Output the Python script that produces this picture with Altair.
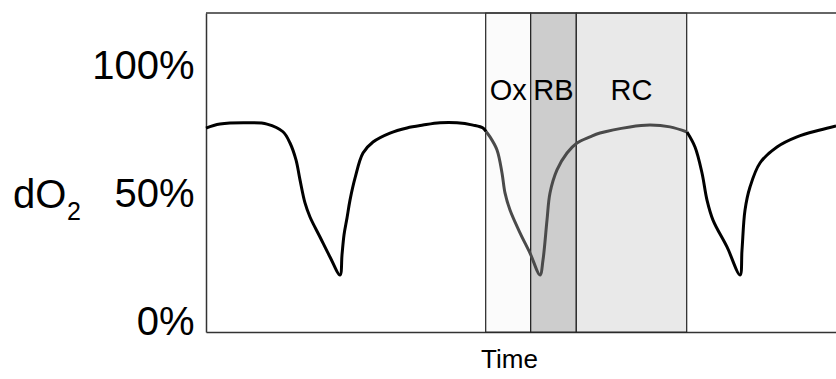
import altair as alt
import pandas as pd

# ---- data ----
seg_a_t = [0, 14, 44, 61, 77, 84, 90, 94, 99, 104, 114, 124, 134, 136, 138, 141, 144, 149, 157, 167, 184, 201, 217, 234, 251, 267, 277, 280]
seg_a_v = [76.1, 77.7, 78.2, 77.7, 74.7, 70.3, 63.7, 55.9, 46.9, 41.4, 33.6, 25.8, 18.75, 26.6, 34.4, 41.0, 48.0, 56.6, 66.4, 70.7, 74.2, 76.2, 77.3, 78.2, 78.2, 77.3, 76.2, 74.8]

seg_b_t = [280, 284, 291, 296, 299, 304, 314, 324, 334, 337, 341, 344, 351, 361, 371, 384, 394, 424, 444, 464, 481]
seg_b_v = [74.8, 72.7, 67.6, 58.6, 50.8, 44.1, 35.2, 27.3, 18.75, 24.6, 40.2, 50.8, 59.8, 66.4, 70.3, 72.7, 74.2, 76.6, 77.3, 76.6, 74.6]

seg_c_t = [481, 489, 496, 501, 507, 521, 534, 536, 539, 544, 554, 571, 591, 614, 630]
seg_c_v = [74.6, 68.75, 58.6, 48.0, 40.2, 29.7, 18.75, 28.5, 44.1, 53.1, 62.5, 68.75, 72.7, 75.4, 77.0]

phase_names = ["Ox", "RB", "RC"]
phase_start = [279.7, 324.7, 370.3]
phase_end = [324.7, 370.3, 480.7]
phase_fill = ["#fbfbfb", "#cdcdcd", "#e9e9e9"]

y_ticks = [0, 50, 100]
x_domain = [0, 630]
y_domain = [-3.52, 121.09]

W, H = 630, 319
FONT = "Liberation Sans"

# ---- tables ----
curve = pd.concat([
    pd.DataFrame({"t": seg_a_t, "v": seg_a_v, "seg": "a"}),
    pd.DataFrame({"t": seg_b_t, "v": seg_b_v, "seg": "b"}),
    pd.DataFrame({"t": seg_c_t, "v": seg_c_v, "seg": "c"}),
], ignore_index=True)
curve["order"] = range(len(curve))

phases = pd.DataFrame({"name": phase_names, "start": phase_start, "end": phase_end, "fill": phase_fill})
phases["mid"] = (phases["start"] + phases["end"]) / 2

xs = alt.Scale(domain=x_domain, nice=False, zero=False)
ys = alt.Scale(domain=y_domain, nice=False, zero=False)

bands = alt.Chart(phases).mark_rect(stroke="#222222", strokeWidth=1.2).encode(
    x=alt.X("start:Q", scale=xs,
            axis=alt.Axis(title="Time", labels=False, ticks=False, grid=False,
                          domainColor="#333333", domainWidth=1.5,
                          titleFont=FONT, titleFontSize=26, titleFontWeight="normal",
                          titleColor="black", titleX=303, titleY=35,
                          titleBaseline="alphabetic", titleAlign="center")),
    x2="end:Q",
    y=alt.value(0),
    y2=alt.value(H),
    fill=alt.Fill("fill:N", scale=None),
)

band_labels = alt.Chart(phases).mark_text(
    font=FONT, fontSize=29, color="black", baseline="middle", align="center"
).encode(
    x=alt.X("mid:Q", scale=xs),
    y=alt.value(77.5),
    text="name:N",
)

line = alt.Chart(curve).mark_line(strokeWidth=3, interpolate="catmull-rom").encode(
    x=alt.X("t:Q", scale=xs),
    y=alt.Y("v:Q", scale=ys,
            axis=alt.Axis(title=None, values=y_ticks, labelExpr="datum.value + '%'",
                          ticks=False, grid=False, domainColor="#333333", domainWidth=1.5,
                          labelFont=FONT, labelFontSize=40, labelColor="black",
                          labelPadding=12)),
    color=alt.Color("seg:N", scale=alt.Scale(domain=["a", "b", "c"],
                                             range=["#000000", "#4a4a4a", "#000000"]),
                    legend=None),
    detail="seg:N",
    order="order:Q",
)

top_rule = alt.Chart(pd.DataFrame({"k": [0]})).mark_rule(color="#333333", strokeWidth=1.5).encode(
    x=alt.value(0), x2=alt.value(W), y=alt.value(0)
)

ylab = alt.Chart(pd.DataFrame({"s": ["dO"]})).mark_text(
    font=FONT, fontSize=40, color="black", align="left", baseline="alphabetic"
).encode(x=alt.value(-193), y=alt.value(195), text="s:N")

ysub = alt.Chart(pd.DataFrame({"s": ["2"]})).mark_text(
    font=FONT, fontSize=25, color="black", align="left", baseline="alphabetic"
).encode(x=alt.value(-139), y=alt.value(207), text="s:N")

chart = alt.layer(bands, line, band_labels, top_rule, ylab, ysub).properties(
    width=W, height=H,
    padding={"left": 206, "top": 13, "right": 0, "bottom": 47},
    autosize=alt.AutoSizeParams(type="none"),
    background="white",
).configure_view(stroke=None)

chart.save("out.html", embed_options={"renderer": "svg", "actions": False})
